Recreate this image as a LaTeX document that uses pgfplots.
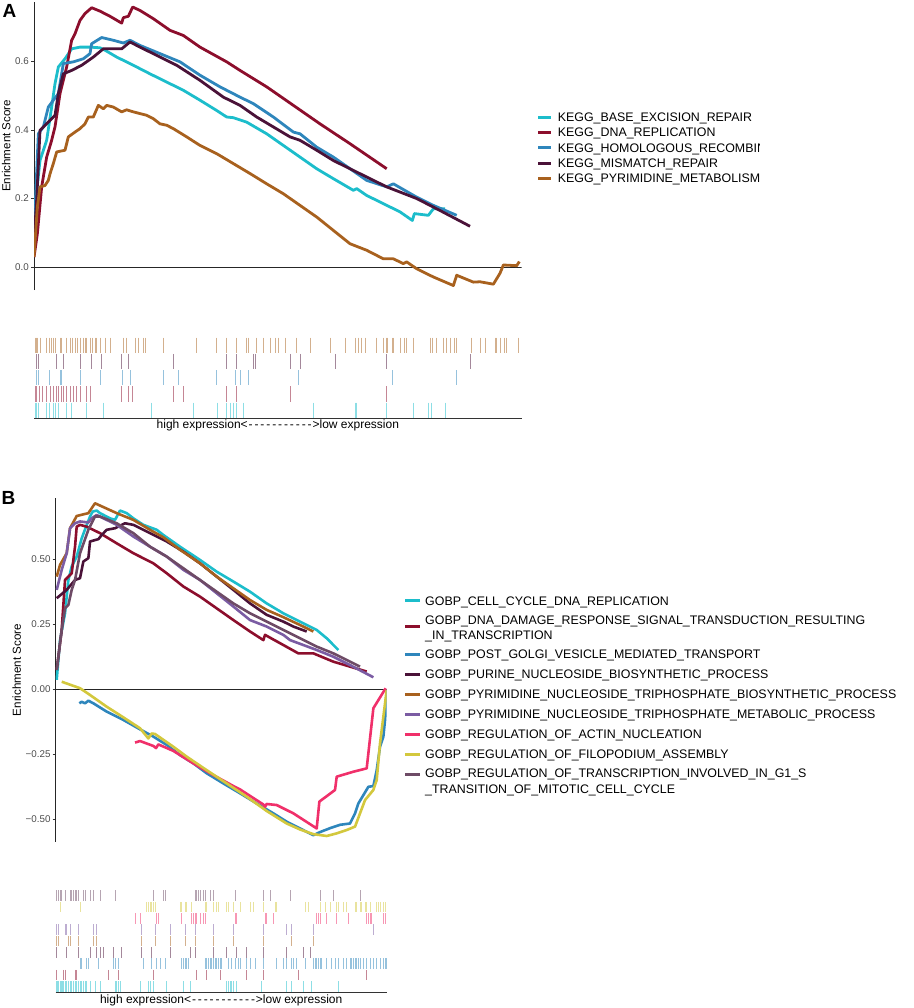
\documentclass[border=0pt]{standalone}
\usepackage{fontspec}
\setmainfont{Liberation Sans}
\usepackage{pgfplots}
\pgfplotsset{compat=1.18}

\definecolor{cc1}{HTML}{1CBDCB}
\definecolor{cc2}{HTML}{8C0E2C}
\definecolor{cc3}{HTML}{2E86BC}
\definecolor{cc4}{HTML}{4A1238}
\definecolor{cc5}{HTML}{A8611E}
\definecolor{cc6}{HTML}{7B5CA3}
\definecolor{cc7}{HTML}{F0306A}
\definecolor{cc8}{HTML}{D3C83D}
\definecolor{cc9}{HTML}{6E4B66}

\newcommand{\dd}{\makebox[5.9pt]{-}}
\newcommand{\hilo}{high expression<\dd\dd\dd\dd\dd\dd\dd\dd\dd\dd\dd>low expression}

\pgfplotsset{
  gseamain/.style={scale only axis, axis x line=none, axis y line*=left, xtick=\empty,
    tick align=outside, major tick length=3pt,
    y axis line style={line width=0.7pt, color=black!85},
    ytick style={line width=0.6pt, color=black!80},
    yticklabel style={font=\fontsize{9.8}{11}\selectfont, text=black!70, inner sep=0pt, xshift=-2pt},
    ylabel={Enrichment Score},
    ylabel style={font=\fontsize{11.6}{13}\selectfont, anchor=center},
  },
  es/.style={line width=2.8pt, line join=round, no marks},
  rug/.style={scale only axis, axis x line*=bottom, axis y line=none, xtick=\empty, ytick=\empty,
    x axis line style={line width=1pt, color=black!80},
    ymin=0, xlabel={\hilo},
    xlabel style={font=\fontsize{12}{13}\selectfont, at={(axis description cs:0.5,0)}, anchor=north, inner sep=0pt},
  },
  rk/.style={only marks, mark=|, opacity=0.5, mark options={line width=0.9pt}},
}

\begin{document}
\begin{tikzpicture}[x=1pt,y=1pt]
\path[use as bounding box] (0,0) rectangle (913,-1008);

% ================= Panel A main =================
\begin{axis}[gseamain, at={(34pt,-290pt)}, anchor=south west,
  width=487.7pt, height=288.3pt, xmin=102, xmax=1565, ymin=-0.067, ymax=0.7746,
  ytick={0,0.2,0.4,0.6}, yticklabels={0.0,0.2,0.4,0.6},
  ylabel style={at={(axis description cs:-0.057,0.5)}}]
\addplot[black!85, line width=0.8pt] coordinates {(102,0)(1565,0)};
\addplot[es, cc1] coordinates {(102,0.146)(120,0.311)(140,0.370)(155,0.467)(165,0.535)(175,0.584)(195,0.608)(215,0.637)(240,0.642)(270,0.642)(300,0.640)(315,0.633)(350,0.613)(400,0.589)(450,0.564)(500,0.540)(550,0.516)(600,0.487)(650,0.457)(680,0.438)(700,0.436)(740,0.423)(800,0.389)(850,0.355)(900,0.321)(950,0.287)(1000,0.258)(1060,0.224)(1070,0.229)(1100,0.209)(1150,0.185)(1200,0.161)(1237,0.136)(1243,0.156)(1285,0.151)(1300,0.170)(1335,0.170)};
\addplot[es, cc2] coordinates {(102,0.029)(112,0.097)(125,0.234)(140,0.321)(155,0.370)(165,0.409)(180,0.506)(200,0.584)(215,0.662)(225,0.681)(240,0.720)(255,0.740)(275,0.757)(300,0.747)(330,0.732)(365,0.712)(370,0.728)(385,0.732)(398,0.759)(420,0.749)(460,0.725)(510,0.691)(550,0.676)(600,0.642)(680,0.599)(720,0.574)(800,0.526)(880,0.472)(960,0.418)(1050,0.360)(1160,0.287)};
\addplot[es, cc3] coordinates {(102,0.097)(115,0.389)(130,0.409)(145,0.467)(160,0.487)(175,0.506)(190,0.594)(220,0.599)(250,0.608)(270,0.623)(275,0.652)(305,0.670)(340,0.662)(370,0.654)(390,0.662)(420,0.647)(480,0.623)(540,0.599)(600,0.560)(660,0.526)(720,0.496)(760,0.477)(820,0.438)(880,0.394)(900,0.389)(950,0.350)(1000,0.321)(1050,0.287)(1100,0.253)(1160,0.234)(1180,0.243)(1250,0.204)(1300,0.180)(1370,0.151)};
\addplot[es, cc4] coordinates {(102,0.078)(110,0.195)(120,0.399)(165,0.443)(175,0.506)(190,0.564)(215,0.574)(245,0.589)(280,0.613)(310,0.637)(330,0.637)(365,0.637)(390,0.657)(420,0.642)(470,0.618)(530,0.589)(600,0.545)(670,0.496)(720,0.472)(770,0.438)(820,0.409)(870,0.380)(900,0.370)(950,0.341)(1000,0.311)(1060,0.282)(1100,0.263)(1160,0.234)(1250,0.200)(1320,0.165)(1410,0.119)};
\addplot[es, cc5] coordinates {(102,0.029)(112,0.175)(120,0.234)(135,0.238)(145,0.253)(150,0.272)(160,0.302)(170,0.336)(195,0.341)(205,0.380)(225,0.394)(240,0.404)(255,0.418)(265,0.438)(280,0.438)(295,0.472)(310,0.462)(320,0.472)(340,0.467)(365,0.453)(380,0.459)(400,0.453)(420,0.448)(440,0.443)(460,0.433)(480,0.418)(500,0.414)(520,0.404)(560,0.380)(600,0.355)(650,0.331)(700,0.302)(750,0.273)(800,0.243)(850,0.214)(900,0.180)(950,0.146)(1000,0.107)(1050,0.068)(1100,0.049)(1150,0.024)(1180,0.024)(1210,0.010)(1220,0.015)(1250,-0.005)(1300,-0.029)(1360,-0.054)(1370,-0.024)(1420,-0.044)(1440,-0.043)(1480,-0.050)(1500,-0.018)(1510,0.006)(1550,0.004)(1558,0.016)};
\end{axis}

% ================= Panel A rug =================
\begin{axis}[rug, at={(34pt,-418.3pt)}, anchor=south west,
  width=487.7pt, height=81.3pt, xmin=102, xmax=1565, ymax=5,
  xlabel style={yshift=-1pt}]
\addplot[rk, cc5, mark size=7.6pt] coordinates {(105,4.5)(108,4.5)(112,4.5)(120,4.5)(140,4.5)(148,4.5)(155,4.5)(160,4.5)(165,4.5)(180,4.5)(185,4.5)(200,4.5)(210,4.5)(218,4.5)(225,4.5)(233,4.5)(240,4.5)(250,4.5)(255,4.5)(258,4.5)(270,4.5)(278,4.5)(285,4.5)(290,4.5)(300,4.5)(315,4.5)(330,4.5)(370,4.5)(380,4.5)(405,4.5)(415,4.5)(430,4.5)(437,4.5)(490,4.5)(590,4.5)(650,4.5)(680,4.5)(710,4.5)(740,4.5)(745,4.5)(770,4.5)(790,4.5)(810,4.5)(825,4.5)(835,4.5)(855,4.5)(890,4.5)(930,4.5)(990,4.5)(1035,4.5)(1065,4.5)(1075,4.5)(1085,4.5)(1095,4.5)(1130,4.5)(1150,4.5)(1158,4.5)(1162,4.5)(1178,4.5)(1180,4.5)(1200,4.5)(1212,4.5)(1220,4.5)(1240,4.5)(1290,4.5)(1298,4.5)(1310,4.5)(1330,4.5)(1340,4.5)(1350,4.5)(1362,4.5)(1370,4.5)(1415,4.5)(1440,4.5)(1455,4.5)(1485,4.5)(1490,4.5)(1500,4.5)(1512,4.5)(1520,4.5)(1555,4.5)};
\addplot[rk, cc4, mark size=7.6pt] coordinates {(108,3.5)(115,3.5)(170,3.5)(190,3.5)(240,3.5)(275,3.5)(305,3.5)(365,3.5)(385,3.5)(520,3.5)(680,3.5)(710,3.5)(760,3.5)(765,3.5)(870,3.5)(900,3.5)(1005,3.5)(1160,3.5)(1410,3.5)};
\addplot[rk, cc3, mark size=7.6pt] coordinates {(108,2.5)(115,2.5)(148,2.5)(180,2.5)(185,2.5)(240,2.5)(300,2.5)(368,2.5)(390,2.5)(490,2.5)(535,2.5)(650,2.5)(705,2.5)(720,2.5)(745,2.5)(895,2.5)(1178,2.5)(1370,2.5)};
\addplot[rk, cc2, mark size=7.6pt] coordinates {(105,1.5)(110,1.5)(118,1.5)(128,1.5)(140,1.5)(150,1.5)(160,1.5)(168,1.5)(175,1.5)(185,1.5)(190,1.5)(198,1.5)(210,1.5)(220,1.5)(230,1.5)(240,1.5)(260,1.5)(272,1.5)(365,1.5)(385,1.5)(398,1.5)(520,1.5)(550,1.5)(680,1.5)(710,1.5)(870,1.5)(1160,1.5)};
\addplot[rk, cc1, mark size=7.6pt] coordinates {(105,0.5)(110,0.5)(115,0.5)(140,0.5)(148,0.5)(160,0.5)(165,0.5)(175,0.5)(200,0.5)(215,0.5)(260,0.5)(310,0.5)(455,0.5)(580,0.5)(652,0.5)(680,0.5)(690,0.5)(700,0.5)(710,0.5)(730,0.5)(940,0.5)(1065,0.5)(1070,0.5)(1160,0.5)(1240,0.5)(1285,0.5)(1295,0.5)(1337,0.5)};
\end{axis}

% ================= Panel B main =================
\begin{axis}[gseamain, at={(55.7pt,-841.7pt)}, anchor=south west,
  width=331pt, height=343.4pt, xmin=167, xmax=1160, ymin=-0.587, ymax=0.733,
  ytick={-0.5,-0.25,0,0.25,0.5}, yticklabels={−0.50,−0.25,0.00,0.25,0.50},
  ylabel style={at={(axis description cs:-0.118,0.5)}}]
\addplot[black!85, line width=0.8pt] coordinates {(167,0)(1160,0)};
\addplot[es, cc1, line width=2.6pt] coordinates {(170,0.035)(180,0.188)(195,0.291)(205,0.419)(215,0.471)(230,0.509)(245,0.579)(258,0.624)(270,0.663)(278,0.682)(290,0.686)(300,0.676)(330,0.656)(345,0.650)(360,0.686)(380,0.676)(400,0.656)(430,0.631)(470,0.612)(490,0.592)(540,0.547)(600,0.496)(650,0.451)(700,0.413)(750,0.374)(800,0.329)(850,0.291)(900,0.259)(950,0.227)(980,0.195)(1015,0.150)};
\addplot[es, cc2, line width=2.6pt] coordinates {(170,0.073)(185,0.227)(195,0.419)(205,0.432)(215,0.445)(225,0.547)(230,0.624)(240,0.631)(260,0.624)(300,0.599)(350,0.560)(400,0.522)(460,0.483)(500,0.445)(550,0.394)(600,0.355)(650,0.310)(700,0.265)(750,0.221)(790,0.188)(795,0.208)(850,0.169)(895,0.137)(940,0.137)(1000,0.105)(1050,0.086)(1100,0.067)};
\addplot[es, cc3, line width=2.6pt] coordinates {(238,-0.055)(245,-0.049)(255,-0.055)(265,-0.045)(280,-0.055)(320,-0.087)(370,-0.119)(420,-0.155)(460,-0.183)(500,-0.215)(540,-0.254)(580,-0.286)(620,-0.324)(670,-0.363)(720,-0.401)(770,-0.440)(820,-0.478)(860,-0.510)(900,-0.536)(940,-0.562)(960,-0.550)(990,-0.535)(1020,-0.522)(1050,-0.517)(1065,-0.478)(1075,-0.440)(1090,-0.408)(1105,-0.376)(1120,-0.373)(1130,-0.312)(1140,-0.222)(1150,-0.183)(1155,-0.119)(1160,-0.004)};
\addplot[es, cc4, line width=2.6pt] coordinates {(170,0.349)(200,0.381)(225,0.419)(240,0.426)(250,0.490)(265,0.503)(270,0.567)(295,0.576)(305,0.592)(320,0.612)(345,0.618)(375,0.637)(400,0.631)(450,0.599)(500,0.567)(550,0.528)(600,0.483)(650,0.432)(700,0.381)(750,0.329)(800,0.285)(850,0.259)(880,0.240)(920,0.221)};
\addplot[es, cc5, line width=2.6pt] coordinates {(170,0.432)(180,0.477)(200,0.522)(210,0.618)(230,0.665)(265,0.676)(285,0.714)(295,0.708)(350,0.676)(400,0.650)(450,0.612)(490,0.583)(540,0.535)(600,0.483)(650,0.432)(700,0.387)(750,0.342)(800,0.304)(850,0.276)(900,0.246)(940,0.221)};
\addplot[es, cc6, line width=2.6pt] coordinates {(170,0.381)(185,0.458)(200,0.522)(210,0.618)(225,0.637)(240,0.644)(265,0.640)(275,0.656)(290,0.669)(320,0.650)(350,0.631)(400,0.586)(450,0.547)(500,0.509)(550,0.458)(600,0.419)(650,0.368)(700,0.317)(750,0.265)(800,0.240)(850,0.208)(870,0.188)(950,0.150)(1000,0.124)(1050,0.092)(1120,0.045)};
\addplot[es, cc7, line width=2.6pt] coordinates {(405,-0.206)(420,-0.200)(460,-0.219)(468,-0.227)(475,-0.213)(520,-0.238)(580,-0.286)(640,-0.331)(700,-0.373)(720,-0.386)(790,-0.444)(795,-0.453)(800,-0.442)(830,-0.446)(880,-0.478)(950,-0.536)(958,-0.433)(1005,-0.388)(1010,-0.337)(1060,-0.318)(1100,-0.305)(1120,-0.074)(1157,0.003)};
\addplot[es, cc8, line width=2.6pt] coordinates {(185,0.028)(240,0.003)(270,-0.023)(320,-0.068)(370,-0.109)(420,-0.151)(445,-0.190)(455,-0.171)(465,-0.173)(520,-0.222)(560,-0.260)(620,-0.312)(680,-0.363)(740,-0.414)(800,-0.469)(860,-0.517)(900,-0.540)(940,-0.558)(980,-0.565)(1010,-0.555)(1040,-0.542)(1065,-0.529)(1080,-0.478)(1095,-0.427)(1120,-0.388)(1130,-0.350)(1140,-0.209)(1160,-0.004)};
\addplot[es, cc9, line width=2.6pt] coordinates {(170,0.073)(185,0.227)(195,0.310)(205,0.323)(215,0.381)(225,0.419)(240,0.522)(265,0.612)(285,0.663)(300,0.663)(350,0.637)(400,0.599)(450,0.547)(500,0.509)(550,0.464)(600,0.419)(650,0.374)(700,0.329)(750,0.291)(800,0.259)(850,0.227)(900,0.195)(950,0.163)(1000,0.137)(1080,0.086)};
\end{axis}

% ================= Panel B rug =================
\begin{axis}[rug, at={(55.7pt,-992pt)}, anchor=south west,
  width=331pt, height=102pt, xmin=167, xmax=1160, ymax=9,
  xlabel style={yshift=-2.5pt}]
\addplot[rk, cc9, mark size=5.2pt] coordinates {(170,8.5)(175,8.5)(180,8.5)(185,8.5)(195,8.5)(210,8.5)(215,8.5)(220,8.5)(225,8.5)(230,8.5)(235,8.5)(250,8.5)(255,8.5)(270,8.5)(280,8.5)(300,8.5)(345,8.5)(460,8.5)(490,8.5)(495,8.5)(585,8.5)(590,8.5)(595,8.5)(600,8.5)(610,8.5)(615,8.5)(630,8.5)(640,8.5)(705,8.5)(790,8.5)(810,8.5)(870,8.5)(960,8.5)(1000,8.5)(1080,8.5)};
\addplot[rk, cc8, mark size=5.2pt] coordinates {(180,7.5)(240,7.5)(440,7.5)(445,7.5)(450,7.5)(455,7.5)(460,7.5)(465,7.5)(540,7.5)(545,7.5)(555,7.5)(560,7.5)(575,7.5)(615,7.5)(620,7.5)(640,7.5)(650,7.5)(655,7.5)(680,7.5)(685,7.5)(700,7.5)(720,7.5)(750,7.5)(760,7.5)(790,7.5)(825,7.5)(830,7.5)(915,7.5)(925,7.5)(960,7.5)(975,7.5)(990,7.5)(1010,7.5)(1015,7.5)(1030,7.5)(1040,7.5)(1065,7.5)(1070,7.5)(1080,7.5)(1085,7.5)(1095,7.5)(1100,7.5)(1110,7.5)(1130,7.5)(1135,7.5)(1140,7.5)(1150,7.5)(1155,7.5)};
\addplot[rk, cc7, mark size=5.2pt] coordinates {(405,6.5)(420,6.5)(470,6.5)(475,6.5)(545,6.5)(575,6.5)(580,6.5)(585,6.5)(590,6.5)(600,6.5)(610,6.5)(615,6.5)(705,6.5)(710,6.5)(795,6.5)(800,6.5)(820,6.5)(950,6.5)(955,6.5)(960,6.5)(980,6.5)(1010,6.5)(1045,6.5)(1100,6.5)(1105,6.5)(1110,6.5)(1115,6.5)(1150,6.5)(1155,6.5)};
\addplot[rk, cc6, mark size=5.2pt] coordinates {(170,5.5)(175,5.5)(195,5.5)(200,5.5)(210,5.5)(235,5.5)(280,5.5)(290,5.5)(425,5.5)(465,5.5)(510,5.5)(555,5.5)(585,5.5)(640,5.5)(700,5.5)(790,5.5)(860,5.5)(875,5.5)(940,5.5)(1120,5.5)};
\addplot[rk, cc5, mark size=5.2pt] coordinates {(170,4.5)(175,4.5)(205,4.5)(210,4.5)(235,4.5)(280,4.5)(290,4.5)(425,4.5)(465,4.5)(510,4.5)(555,4.5)(585,4.5)(640,4.5)(700,4.5)(790,4.5)(875,4.5)(940,4.5)};
\addplot[rk, cc4, mark size=5.2pt] coordinates {(170,3.5)(200,3.5)(235,3.5)(270,3.5)(290,3.5)(300,3.5)(310,3.5)(340,3.5)(365,3.5)(425,3.5)(455,3.5)(510,3.5)(570,3.5)(585,3.5)(640,3.5)(680,3.5)(710,3.5)(740,3.5)(790,3.5)(860,3.5)(910,3.5)(930,3.5)};
\addplot[rk, cc3, mark size=5.2pt] coordinates {(240,2.5)(245,2.5)(260,2.5)(265,2.5)(295,2.5)(340,2.5)(345,2.5)(355,2.5)(430,2.5)(455,2.5)(470,2.5)(480,2.5)(495,2.5)(545,2.5)(550,2.5)(555,2.5)(560,2.5)(565,2.5)(615,2.5)(620,2.5)(625,2.5)(630,2.5)(635,2.5)(640,2.5)(645,2.5)(650,2.5)(655,2.5)(660,2.5)(665,2.5)(685,2.5)(695,2.5)(705,2.5)(715,2.5)(720,2.5)(740,2.5)(750,2.5)(765,2.5)(790,2.5)(830,2.5)(850,2.5)(860,2.5)(875,2.5)(880,2.5)(890,2.5)(915,2.5)(940,2.5)(945,2.5)(950,2.5)(955,2.5)(960,2.5)(965,2.5)(980,2.5)(995,2.5)(1005,2.5)(1015,2.5)(1030,2.5)(1040,2.5)(1050,2.5)(1055,2.5)(1060,2.5)(1065,2.5)(1070,2.5)(1075,2.5)(1080,2.5)(1090,2.5)(1100,2.5)(1110,2.5)(1120,2.5)(1130,2.5)(1140,2.5)(1150,2.5)(1155,2.5)(1160,2.5)};
\addplot[rk, cc2, mark size=5.2pt] coordinates {(170,1.5)(190,1.5)(195,1.5)(225,1.5)(230,1.5)(325,1.5)(355,1.5)(460,1.5)(590,1.5)(620,1.5)(660,1.5)(740,1.5)(790,1.5)(895,1.5)(1100,1.5)};
\addplot[rk, cc1, mark size=5.2pt] coordinates {(170,0.5)(173,0.5)(176,0.5)(180,0.5)(183,0.5)(186,0.5)(190,0.5)(195,0.5)(200,0.5)(205,0.5)(210,0.5)(215,0.5)(220,0.5)(225,0.5)(230,0.5)(235,0.5)(240,0.5)(245,0.5)(250,0.5)(255,0.5)(260,0.5)(270,0.5)(285,0.5)(300,0.5)(345,0.5)(350,0.5)(355,0.5)(360,0.5)(420,0.5)(445,0.5)(450,0.5)(460,0.5)(500,0.5)(550,0.5)(570,0.5)(680,0.5)(685,0.5)(690,0.5)(695,0.5)(700,0.5)(710,0.5)(785,0.5)(860,0.5)(875,0.5)(910,0.5)(935,0.5)(1015,0.5)};
\end{axis}

% ================= Panel letters =================
\node[anchor=north west, inner sep=0pt, font=\fontsize{19}{20}\selectfont\bfseries] at (2.5,-4.5) {A};
\node[anchor=north west, inner sep=0pt, font=\fontsize{19}{20}\selectfont\bfseries] at (1.5,-491.5) {B};

% ================= Legend A =================
\begin{scope}
\clip (530,-100) rectangle (759,-200);
\foreach \c/\yy/\t in {cc1/117.3/KEGG\_BASE\_EXCISION\_REPAIR, cc2/132.6/KEGG\_DNA\_REPLICATION, cc3/147.9/KEGG\_HOMOLOGOUS\_RECOMBINATION, cc4/163.2/KEGG\_MISMATCH\_REPAIR, cc5/178.5/KEGG\_PYRIMIDINE\_METABOLISM}{
  \draw[\c, line width=3.2pt] (538,-\yy) -- (551,-\yy);
  \node[anchor=base west, inner sep=0pt, font=\fontsize{12.4}{14}\selectfont] at (557.7,-\yy-4.4) {\t};
}
\end{scope}

% ================= Legend B =================
\foreach \c/\yy in {cc1/600.7, cc2/626.7, cc3/654, cc4/674, cc5/694, cc6/714, cc7/734, cc8/754, cc9/774}{
  \draw[\c, line width=3pt] (405,-\yy) -- (420,-\yy);
}
\foreach \yy/\t in {600.7/GOBP\_CELL\_CYCLE\_DNA\_REPLICATION,
  620/GOBP\_DNA\_DAMAGE\_RESPONSE\_SIGNAL\_TRANSDUCTION\_RESULTING,
  635/\_IN\_TRANSCRIPTION,
  654/GOBP\_POST\_GOLGI\_VESICLE\_MEDIATED\_TRANSPORT,
  674/GOBP\_PURINE\_NUCLEOSIDE\_BIOSYNTHETIC\_PROCESS,
  694/GOBP\_PYRIMIDINE\_NUCLEOSIDE\_TRIPHOSPHATE\_BIOSYNTHETIC\_PROCESS,
  714/GOBP\_PYRIMIDINE\_NUCLEOSIDE\_TRIPHOSPHATE\_METABOLIC\_PROCESS,
  734/GOBP\_REGULATION\_OF\_ACTIN\_NUCLEATION,
  754/GOBP\_REGULATION\_OF\_FILOPODIUM\_ASSEMBLY,
  773/GOBP\_REGULATION\_OF\_TRANSCRIPTION\_INVOLVED\_IN\_G1\_S,
  789/\_TRANSITION\_OF\_MITOTIC\_CELL\_CYCLE}{
  \node[anchor=base west, inner sep=0pt, font=\fontsize{12.4}{14}\selectfont] at (425,-\yy-4.4) {\t};
}
\end{tikzpicture}
\end{document}
